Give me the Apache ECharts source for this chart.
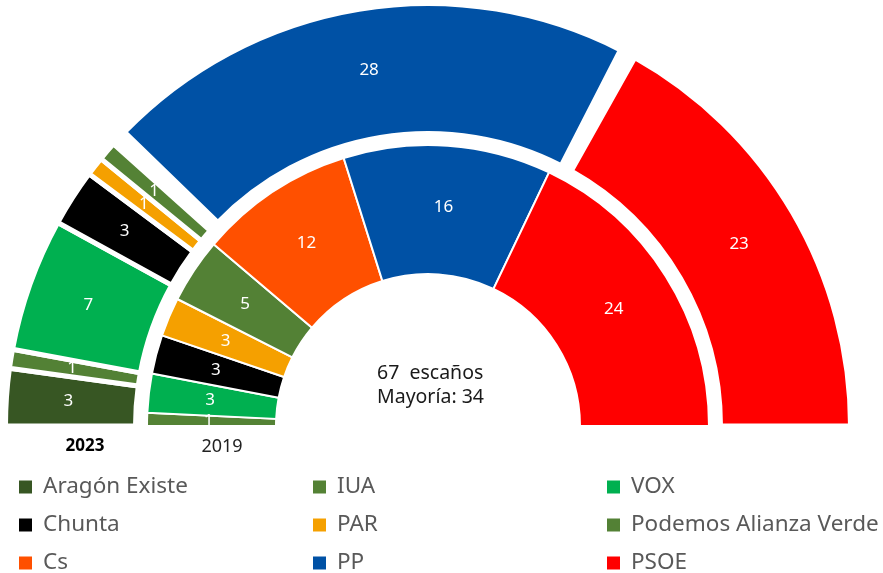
<!DOCTYPE html>
<html>
<head>
<meta charset="utf-8">
<script src="https://cdn.jsdelivr.net/npm/echarts@6/dist/echarts.min.js"></script>
<style>
  html, body { margin: 0; padding: 0; background: #fff; }
  #hemiciclo { width: 883px; height: 573px; }
</style>
</head>
<body>
<div id="hemiciclo"></div>
<script>
// escaños 2023 (anillo exterior) y 2019 (anillo interior), de izquierda a derecha
const partidos2023 = ['Aragón Existe', 'Podemos Alianza Verde', 'VOX', 'Chunta', 'PAR', 'IUA', 'PP', 'PSOE'];
const escanos2023 = [3, 1, 7, 3, 1, 1, 28, 23];
// bloques separados por hueco grande en 2023 (número de partidos por bloque)
const bloques2023 = [6, 1, 1];

const partidos2019 = ['IUA', 'VOX', 'Chunta', 'PAR', 'Podemos Alianza Verde', 'Cs', 'PP', 'PSOE'];
const escanos2019 = [1, 3, 3, 3, 5, 12, 16, 24];

const columnasLeyenda = [
  ['Aragón Existe', 'Chunta', 'Cs'],
  ['IUA', 'PAR', 'PP'],
  ['VOX', 'Podemos Alianza Verde', 'PSOE']
];

const colores = {
  'Aragón Existe': '#375623',
  'IUA': '#548235',
  'VOX': '#00b050',
  'Chunta': '#000000',
  'PAR': '#f5a000',
  'Podemos Alianza Verde': '#538135',
  'Cs': '#ff5000',
  'PP': '#0051a5',
  'PSOE': '#ff0000'
};

const FONT = 'Noto Sans';
const centro = [428, 426];
const huecoGrande = 2.2; // grados

const chart = echarts.init(document.getElementById('hemiciclo'));

const etiqueta = {
  show: true,
  position: 'inside',
  formatter: '{c}',
  color: '#fff',
  fontSize: 17,
  fontFamily: FONT
};

function datos(nombres, valores, borde) {
  return nombres.map((n, i) => ({
    name: n,
    value: valores[i],
    itemStyle: { color: colores[n], borderColor: '#fff', borderWidth: borde }
  }));
}

// anillo exterior partido en bloques con hueco entre ellos
const total2023 = escanos2023.reduce((a, b) => a + b, 0);
const series = [];
let desde = 0;
bloques2023.forEach(n => {
  const hasta = desde + n;
  const acIni = escanos2023.slice(0, desde).reduce((a, b) => a + b, 0);
  const acFin = escanos2023.slice(0, hasta).reduce((a, b) => a + b, 0);
  const ini = 180 - 180 * acIni / total2023 - (acIni > 0 ? huecoGrande / 2 : 0);
  const fin = 180 - 180 * acFin / total2023 + (acFin < total2023 ? huecoGrande / 2 : 0);
  series.push({
    type: 'pie',
    center: centro,
    radius: [292.5, 422.5],
    startAngle: ini,
    endAngle: fin,
    clockwise: true,
    silent: true,
    label: etiqueta,
    labelLine: { show: false },
    data: datos(partidos2023.slice(desde, hasta), escanos2023.slice(desde, hasta), 5)
  });
  desde = hasta;
});

series.push({
  type: 'pie',
  center: centro,
  radius: [152, 281],
  startAngle: 180,
  endAngle: 0,
  clockwise: true,
  silent: true,
  label: etiqueta,
  labelLine: { show: false },
  data: datos(partidos2019, escanos2019, 2)
});

const leyendas = columnasLeyenda.map((col, i) => ({
  data: col,
  orient: 'vertical',
  left: [17, 311, 605][i],
  top: 474,
  height: 160,
  padding: 0,
  icon: 'rect',
  itemWidth: 15,
  itemHeight: 15,
  itemGap: 12,
  selectedMode: false,
  textStyle: {
    fontFamily: FONT,
    fontSize: 22.5,
    lineHeight: 26,
    color: '#595959',
    padding: [0, 0, 0, 5]
  }
}));

chart.setOption({
  animation: false,
  backgroundColor: '#fff',
  title: [
    {
      text: '2023',
      left: 85,
      top: 438,
      padding: 0,
      textAlign: 'center',
      textStyle: { fontFamily: FONT, fontSize: 17, fontWeight: 'bold', color: '#000' }
    },
    {
      text: '2019',
      left: 222,
      top: 438,
      padding: 0,
      textAlign: 'center',
      textStyle: { fontFamily: FONT, fontSize: 18, fontWeight: 'normal', color: '#222' }
    },
    {
      text: '67  escaños\nMayoría: 34',
      left: 377,
      top: 361,
      padding: 0,
      textStyle: { fontFamily: FONT, fontSize: 19.5, lineHeight: 24, fontWeight: 'normal', color: '#1a1a1a' }
    }
  ],
  legend: leyendas,
  series: series
});
</script>
</body>
</html>
